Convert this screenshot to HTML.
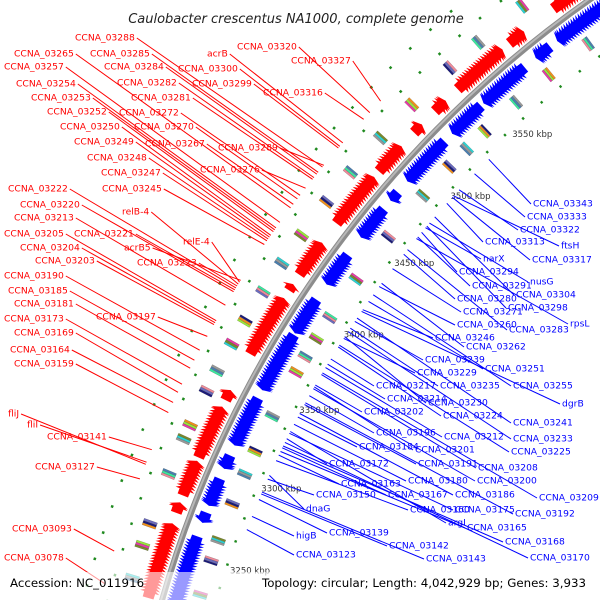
<!DOCTYPE html>
<html><head><meta charset="utf-8">
<style>
html,body{margin:0;padding:0;background:#fff;width:600px;height:600px;overflow:hidden;}
svg{display:block;overflow:hidden;}
text{font-family:"DejaVu Sans","Liberation Sans",sans-serif;}
</style></head>
<body>
<svg id="map" width="600" height="600" viewBox="0 0 600 600" xmlns="http://www.w3.org/2000/svg">
<g id="feat"></g>
<g id="genes"></g>
<g id="backbone"></g>
<g id="ticks"></g>
<g id="lines"></g>
<g id="labels"></g>
<rect x="0" y="572" width="600" height="28" fill="rgba(255,255,255,0.6)"/>
<text x="296" y="23" text-anchor="middle" font-size="13" font-style="italic" fill="#222">Caulobacter crescentus NA1000, complete genome</text>
<text x="10" y="587" font-size="11.8" fill="#000">Accession: NC_011916</text>
<text x="262" y="587" font-size="11.8" fill="#000">Topology: circular; Length: 4,042,929 bp; Genes: 3,933</text>
</svg>
<script>
const CX=1227, CY=906, R=1108, A0=-147.1, DEG=0.0953;
const fwdBlocks=[[3222,3262],[3270,3274],[3280,3298],[3302,3330],[3336,3340],[3364,3397],[3404,3406],[3414,3433],[3448,3478],[3484,3500],[3512,3516],[3528,3534],[3545,3575],[3582,3590],[3612,3640]];
const revBlocks=[[3224,3262],[3272,3276],[3282,3296],[3304,3310],[3318,3345],[3352,3385],[3388,3408],[3420,3438],[3452,3470],[3478,3482],[3492,3520],[3528,3548],[3552,3580],[3590,3598],[3605,3640]];
const outerFeat=[3228,3246,3258,3286,3306,3314,3334,3346,3362,3376,3394,3412,3430,3452,3472,3496,3520,3548,3568,3598,3626];
const innerFeat=[3230,3250,3262,3284,3302,3316,3338,3366,3376,3388,3402,3428,3458,3488,3510,3524,3538,3562,3586,3614];
const featColors=["#4a7fb0","#999","#2ad4d4","#7a8a2a","#e83aa8","#9ae83a","#f0901a","#1a1a7a","#6a6ac0","#f08a9a","#3ae8a0"];
const tickKbp=[3250,3300,3350,3400,3450,3500,3550];
const leftLabels=[["CCNA_03288",75,37,3288],["CCNA_03265",14,53,3265],["CCNA_03285",90,53,3285],["CCNA_03257",4,66,3257],["CCNA_03284",104,66,3284],["acrB",207,53,3302],["CCNA_03320",237,46,3320],["CCNA_03327",291,60,3327],["CCNA_03300",178,68,3300],["CCNA_03254",16,83,3254],["CCNA_03282",117,82,3282],["CCNA_03299",192,83,3299],["CCNA_03253",31,97,3253],["CCNA_03281",131,97,3281],["CCNA_03316",263,92,3316],["CCNA_03252",47,111,3252],["CCNA_03272",119,112,3272],["CCNA_03250",60,126,3250],["CCNA_03270",134,126,3270],["CCNA_03249",74,141,3249],["CCNA_03267",145,143,3267],["CCNA_03289",218,147,3289],["CCNA_03248",87,157,3248],["CCNA_03276",200,169,3276],["CCNA_03247",101,172,3247],["CCNA_03245",102,188,3245],["CCNA_03222",8,188,3222],["CCNA_03220",20,204,3220],["CCNA_03213",14,217,3213],["relB-4",122,211,3224],["CCNA_03205",4,233,3205],["CCNA_03221",74,233,3221],["acrB5",124,247,3226],["relE-4",183,241,3225],["CCNA_03204",20,247,3204],["CCNA_03203",35,260,3203],["CCNA_03223",137,262,3223],["CCNA_03190",4,275,3190],["CCNA_03185",8,290,3185],["CCNA_03181",14,303,3181],["CCNA_03197",96,316,3197],["CCNA_03173",4,318,3173],["CCNA_03169",14,332,3169],["CCNA_03164",10,349,3164],["CCNA_03159",14,363,3159],["fliJ",8,413,3134],["fliI",27,424,3135],["CCNA_03141",47,436,3141],["CCNA_03127",35,466,3127],["CCNA_03093",12,528,3093],["CCNA_03078",4,557,3078]];
const rightLabels=[["CCNA_03343",533,203,3343],["CCNA_03333",527,216,3333],["CCNA_03322",520,229,3322],["CCNA_03313",485,241,3313],["ftsH",561,245,3318],["CCNA_03317",532,259,3317],["narX",483,258,3297],["CCNA_03294",459,271,3294],["nusG",530,281,3300],["CCNA_03291",472,285,3291],["CCNA_03304",516,294,3304],["CCNA_03280",457,298,3280],["CCNA_03298",508,307,3298],["CCNA_03271",463,311,3271],["rpsL",570,323,3290],["CCNA_03260",457,324,3260],["CCNA_03283",509,329,3283],["CCNA_03246",435,337,3246],["CCNA_03262",466,346,3262],["CCNA_03239",425,359,3239],["CCNA_03251",485,368,3251],["CCNA_03229",417,372,3229],["CCNA_03217",376,385,3217],["CCNA_03235",440,385,3235],["CCNA_03255",513,385,3255],["CCNA_03214",387,398,3214],["CCNA_03230",428,402,3230],["dgrB",562,403,3245],["CCNA_03202",364,411,3202],["CCNA_03224",443,415,3224],["CCNA_03241",513,422,3241],["CCNA_03196",376,432,3196],["CCNA_03212",444,436,3212],["CCNA_03233",513,438,3233],["CCNA_03184",359,446,3184],["CCNA_03201",415,449,3201],["CCNA_03225",511,451,3225],["CCNA_03172",329,463,3172],["CCNA_03191",418,463,3191],["CCNA_03208",478,467,3208],["CCNA_03180",408,480,3180],["CCNA_03200",477,480,3200],["CCNA_03163",341,483,3163],["CCNA_03150",316,494,3150],["CCNA_03167",388,494,3167],["CCNA_03186",455,494,3186],["CCNA_03209",539,497,3209],["CCNA_03160",410,509,3160],["CCNA_03175",455,509,3175],["CCNA_03192",515,513,3192],["dnaG",306,508,3152],["argI",448,522,3176],["CCNA_03139",329,532,3139],["CCNA_03165",467,527,3165],["higB",296,535,3130],["CCNA_03142",389,545,3142],["CCNA_03168",505,541,3168],["CCNA_03123",296,554,3123],["CCNA_03143",426,558,3143],["CCNA_03170",530,557,3170]];

const NS="http://www.w3.org/2000/svg";
function ang(k){return (A0+(k-3400)*DEG)*Math.PI/180;}
function pt(k,r){const a=ang(k);return [CX+r*Math.cos(a),CY+r*Math.sin(a)];}
function locusKbp(n){return 3223+(n-3078)*1.16;}
function mk(tag,parent,attrs){const e=document.createElementNS(NS,tag);for(const k in attrs)e.setAttribute(k,attrs[k]);parent.appendChild(e);return e;}
function P(a){return a.map(p=>p[0].toFixed(1)+","+p[1].toFixed(1)).join(" ");}

const bb=document.getElementById('backbone');
function arcPath(r,k1,k2){const s=pt(k1,r),e=pt(k2,r);return `M${s[0]},${s[1]} A${r},${r} 0 0 1 ${e[0]},${e[1]}`;}
let e=mk('path',bb,{d:arcPath(R,3200,3660),fill:'none',stroke:'#8c8c8c','stroke-width':6});


e=mk('path',bb,{d:arcPath(R+1,3200,3660),fill:'none',stroke:'#b8b8b8','stroke-width':2});



const gg=document.getElementById('genes');
function arrow(k,len,dir,r1,r2,color,name){
  const rm=(r1+r2)/2, bw=(r2-r1)*0.28;
  const b=k+dir*len*0.5,t=k+dir*len;
  const pts=[pt(k,rm-bw),pt(b,rm-bw),pt(b,r1),pt(t,rm),pt(b,r2),pt(b,rm+bw),pt(k,rm+bw)];
  const el=mk('polygon',gg,{points:P(pts),fill:color});
  
  
}
fwdBlocks.forEach(b=>{for(let k=b[0];k<=b[1]-1;k+=1.6){arrow(k,Math.min(6,b[1]-k+2),1,R+4,R+24,'#ff0000','forward-gene');}});
revBlocks.forEach(b=>{for(let k=b[1];k>=b[0]+1;k-=1.6){arrow(k,Math.min(6,k-b[0]+2),-1,R-4,R-24,'#0000ff','reverse-gene');}});

const fg=document.getElementById('feat');
function bar(k,r1,r2,w,color){
  const el=mk('polygon',fg,{points:P([pt(k,r1),pt(k+w,r1),pt(k+w,r2),pt(k,r2)]),fill:color,stroke:'rgba(0,0,0,0.3)','stroke-width':0.5});
  
  
}
outerFeat.forEach((k,i)=>{for(let j=0;j<3;j++){bar(k+j*1.2,R+28,R+42,1.1,featColors[(i*3+j)%featColors.length]);}});
innerFeat.forEach((k,i)=>{for(let j=0;j<3;j++){bar(k+j*1.2,R-28,R-42,1.1,featColors[(i*5+j+2)%featColors.length]);}});
for(let k=3200;k<3650;k+=14){
  [R+52,R+76,R-52].forEach((r,ri)=>{
    const kk=k+ri*5;
    const el=mk('polygon',fg,{points:P([pt(kk,r-1),pt(kk+1.3,r-1),pt(kk+1.3,r+1.5),pt(kk,r+1.5)]),fill:'#1f8a1f'});
    
    
  });
}

const tg=document.getElementById('ticks');
tickKbp.forEach(k=>{
  const p=pt(k,1052);
  const t=mk('text',tg,{x:p[0].toFixed(1),y:(p[1]+3).toFixed(1),'font-size':8.5,fill:'#333'});
  t.textContent=k+" kbp";
  
  
});

const lg=document.getElementById('labels'), ll=document.getElementById('lines');
leftLabels.forEach(l=>{
  const t=mk('text',lg,{x:l[1],y:l[2]+3.5,'font-size':9.2,fill:'#ff0000'});
  t.textContent=l[0];
  
  
  const w=t.getComputedTextLength();
  const p=pt(locusKbp(l[3]),R+60);
  const ln=mk('line',ll,{x1:l[1]+w+2,y1:l[2]+1,x2:p[0].toFixed(1),y2:p[1].toFixed(1),stroke:'#ff0000','stroke-width':1});
  
  
});
rightLabels.forEach(l=>{
  const t=mk('text',lg,{x:l[1],y:l[2]+3.5,'font-size':9.2,fill:'#0000ff'});
  t.textContent=l[0];
  
  
  const p=pt(locusKbp(l[3]),R-58);
  const ln=mk('line',ll,{x1:l[1]-2,y1:l[2]+1,x2:p[0].toFixed(1),y2:p[1].toFixed(1),stroke:'#0000ff','stroke-width':1});
  
  
});
</script>
</body></html>
